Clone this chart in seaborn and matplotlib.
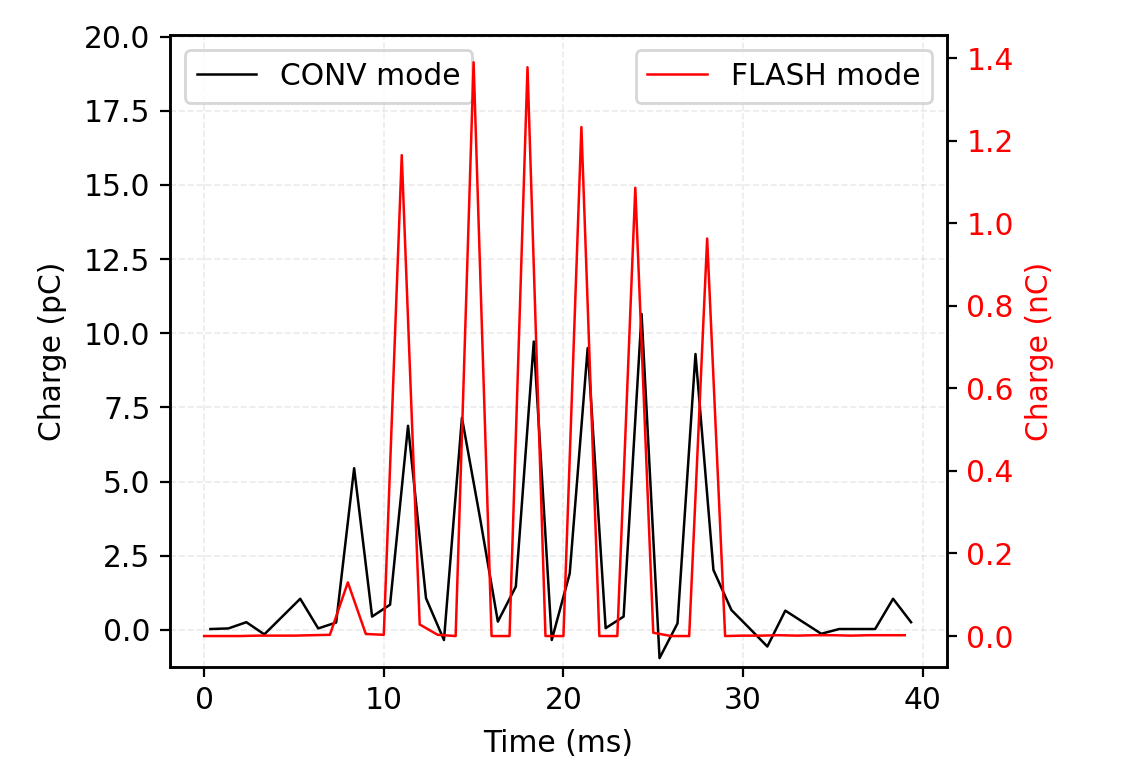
import numpy as np
import matplotlib
matplotlib.use("Agg")
import matplotlib.pyplot as plt
import seaborn as sns

plt.rcParams.update({
    'font.family': ['DejaVu Sans'],
    'font.size': 10.7,
    'axes.linewidth': 0.9,
})

# CONV mode (pC), sampled slightly offset from integer ms
conv_time = [0.35, 1.35, 2.35, 3.35, 4.35, 5.35, 6.35, 7.35, 8.35, 9.35,
             10.35, 11.35, 12.35, 13.35, 14.35, 15.35, 16.35, 17.35, 18.35, 19.35,
             20.35, 21.35, 22.35, 23.35, 24.35, 25.35, 26.35, 27.35, 28.35, 29.35,
             30.35, 31.35, 32.35, 33.35, 34.35, 35.35, 36.35, 37.35, 38.35, 39.35]
conv_charge = [0.03, 0.05, 0.26, -0.15, 0.45, 1.05, 0.05, 0.25, 5.45, 0.45,
               0.85, 6.88, 1.07, -0.34, 7.15, 3.8, 0.28, 1.46, 9.72, -0.34,
               1.9, 9.5, 0.06, 0.45, 10.65, -0.95, 0.22, 9.3, 2.02, 0.67,
               0.06, -0.56, 0.65, 0.26, -0.13, 0.03, 0.03, 0.03, 1.05, 0.26]

# FLASH mode (nC)
flash_time = [0, 1, 2, 3, 4, 5, 6, 7, 8, 9,
              10, 11, 12, 13, 14, 15, 16, 17, 18, 19,
              20, 21, 22, 23, 24, 25, 26, 27, 28, 29,
              30, 31, 32, 33, 34, 35, 36, 37, 38, 39]
flash_charge = [0.0, 0.0, 0.0, 0.001, 0.001, 0.001, 0.002, 0.003, 0.13, 0.005,
                0.003, 1.165, 0.028, 0.003, 0.0, 1.39, 0.0, 0.0, 1.378, 0.0,
                0.0, 1.233, 0.0, 0.0, 1.086, 0.008, 0.0, 0.0, 0.963, 0.0,
                0.001, 0.001, 0.002, 0.001, 0.002, 0.002, 0.001, 0.002, 0.002, 0.002]

fig = plt.figure(figsize=(5.655, 3.825), dpi=200)
ax1 = fig.add_axes([0.1503, 0.1281, 0.6870, 0.8261])
ax2 = ax1.twinx()

sns.lineplot(x=conv_time, y=conv_charge, ax=ax1, color='black', lw=0.9,
             label='CONV mode')
sns.lineplot(x=flash_time, y=flash_charge, ax=ax2, color='red', lw=0.9,
             label='FLASH mode')

ax1.set_xlim(-1.9, 41.35)
ax1.set_ylim(-1.25, 20.05)
ax2.set_ylim(-0.075, 1.456)
ax1.set_yticks([0, 2.5, 5, 7.5, 10, 12.5, 15, 17.5, 20])
ax2.set_yticks([0, 0.2, 0.4, 0.6, 0.8, 1.0, 1.2, 1.4])

ax1.set_xlabel('Time (ms)', labelpad=5)
ax1.set_ylabel('Charge (pC)', labelpad=6)
ax2.set_ylabel('Charge (nC)', color='red')
ax2.tick_params(axis='y', labelcolor='red')

ax1.grid(True, linestyle='--', alpha=0.25, lw=0.6)

ax1.legend(loc='upper left')
ax2.legend(loc='upper right')

fig.savefig('out.png', dpi=200)
